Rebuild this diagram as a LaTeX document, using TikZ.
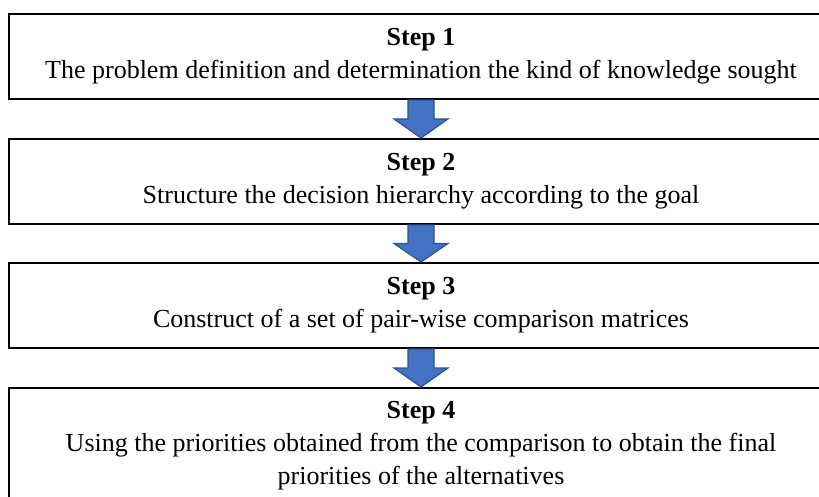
\documentclass[tikz,border=0pt]{standalone}
\usepackage{fontspec}
\setmainfont{Liberation Serif}
\usepackage{xcolor}
\usetikzlibrary{positioning, calc}
\definecolor{arrowblue}{HTML}{4472C4}
\definecolor{arrowedge}{HTML}{2F528F}

\begin{document}
\begin{tikzpicture}[
      x=0.5pt, y=-0.5pt,
      node distance=19pt,
      stepbox/.style={draw, line width=1pt, minimum width=412pt, minimum height=42.5pt,
        inner sep=0pt, align=center, font=\fontsize{13}{16.5}\selectfont},
      blockarr/.style={draw=arrowedge, fill=arrowblue, line width=0.6pt}
    ]
    \clip (0,0) rectangle (819,497);
    \node[stepbox, anchor=north west] (step1) at (8,13)
      {\textbf{Step 1}\\The problem definition and determination the kind of knowledge sought};
    \node[stepbox, below=of step1] (step2)
      {\textbf{Step 2}\\Structure the decision hierarchy according to the goal};
    \node[stepbox, below=18.5pt of step2] (step3)
      {\textbf{Step 3}\\Construct of a set of pair-wise comparison matrices};
    \node[stepbox, below=of step3, minimum height=58pt] (step4)
      {\textbf{Step 4}\\Using the priorities obtained from the comparison to obtain the final\\priorities of the alternatives};
    \foreach \a/\b in {step1/step2, step2/step3, step3/step4}
      \draw[blockarr] ($(\a.south)+(-13,0)$) -- ($(\a.south)+(13,0)$)
        -- ($(\a.south)!0.5!(\b.north)+(13,0)$) -- ++(14,0) -- (\b.north)
        -- ($(\a.south)!0.5!(\b.north)+(-27,0)$) -- ++(14,0) -- cycle;
  \end{tikzpicture}
\end{document}
